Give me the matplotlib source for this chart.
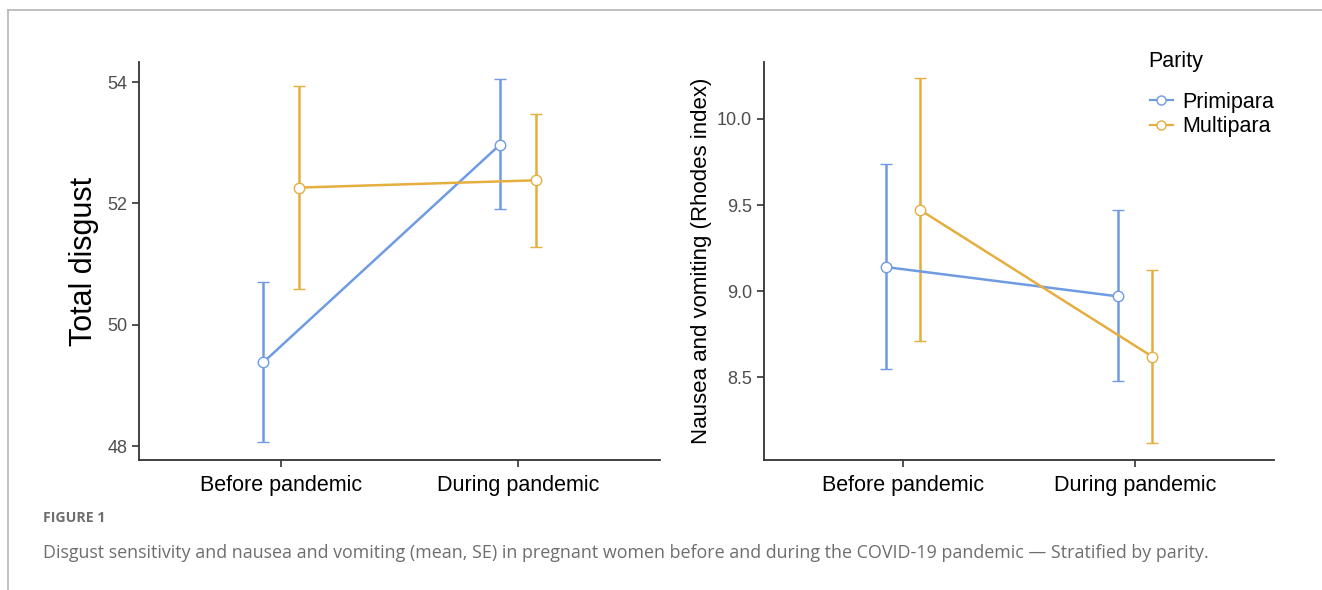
import numpy as np
import matplotlib
matplotlib.use("Agg")
import matplotlib.pyplot as plt
from matplotlib.lines import Line2D

plt.rcParams['font.family'] = ['Liberation Sans', 'DejaVu Sans']

# data (mean and SE limits)
periods = ["Before pandemic", "During pandemic"]
groups = ["Primipara", "Multipara"]
colors = ["#6f9be3", "#e6ad3f"]

disgust_mean = {"Primipara": [49.38, 52.97], "Multipara": [52.26, 52.38]}
disgust_lo = {"Primipara": [48.07, 51.90], "Multipara": [50.59, 51.28]}
disgust_hi = {"Primipara": [50.70, 54.05], "Multipara": [53.93, 53.47]}

nausea_mean = {"Primipara": [9.14, 8.97], "Multipara": [9.47, 8.62]}
nausea_lo = {"Primipara": [8.55, 8.48], "Multipara": [8.71, 8.12]}
nausea_hi = {"Primipara": [9.74, 9.47], "Multipara": [10.24, 9.12]}

fig = plt.figure(figsize=(13.22, 5.90), dpi=100)

# frame of the figure page
fig.add_artist(Line2D([8/1322, 1], [1-10/590, 1-10/590], color="#b5b5b5", lw=1.2))
fig.add_artist(Line2D([8/1322, 8/1322], [0, 1-10/590], color="#b5b5b5", lw=1.2))

ax1 = fig.add_axes([139/1322, 130/590, 521/1322, 398/590])
ax2 = fig.add_axes([764/1322, 130/590, 510/1322, 398/590])

dodge = [-0.075, 0.075]
xx = np.arange(len(periods))


def draw(ax, mean, lo, hi):
    for i, g in enumerate(groups):
        x = xx + dodge[i]
        m = np.array(mean[g])
        err = [m - np.array(lo[g]), np.array(hi[g]) - m]
        ax.errorbar(x, m, yerr=err, color=colors[i], lw=1.8, capsize=4,
                    capthick=1.8, zorder=2, marker="o", ms=7.5,
                    mfc="white", mec=colors[i], mew=1.0)
    ax.set_xlim(-0.6, 1.6)
    ax.set_xticks(xx)
    ax.set_xticklabels(periods, fontsize=15.5, color="black")
    for s in ["top", "right"]:
        ax.spines[s].set_visible(False)
    for s in ["left", "bottom"]:
        ax.spines[s].set_color("#333333")
        ax.spines[s].set_linewidth(1.3)
    ax.tick_params(axis="y", labelsize=13, labelcolor="#4d4d4d", color="#333333",
                   length=5, width=1.2)
    ax.tick_params(axis="x", color="#333333", length=5, width=1.2, pad=6)


draw(ax1, disgust_mean, disgust_lo, disgust_hi)
ax1.set_ylim(47.77, 54.33)
ax1.set_yticks([48, 50, 52, 54])
ax1.set_ylabel("Total disgust", fontsize=22, labelpad=6)

draw(ax2, nausea_mean, nausea_lo, nausea_hi)
ax2.set_ylim(8.02, 10.33)
ax2.set_yticks([8.5, 9.0, 9.5, 10.0])
ax2.set_yticklabels(["8.5", "9.0", "9.5", "10.0"])
ax2.set_ylabel("Nausea and vomiting (Rhodes index)", fontsize=16, labelpad=4)

# legend: title drawn separately to get the wider gap
fig.text(1148/1322, 1-61/590, "Parity", fontsize=15.5, va="center", ha="left")
handles = [Line2D([], [], color=c, lw=1.6, marker="o", ms=6.5, mfc="white", mec=c, mew=1.0)
           for c in colors]
leg = fig.legend(handles, groups, loc="upper left",
                 bbox_to_anchor=(1150/1322, 1-92/590), frameon=False, fontsize=15.5,
                 handlelength=1.05, handletextpad=0.45, labelspacing=0.15,
                 borderpad=0, borderaxespad=0)

fig.text(43/1322, 1-518/590, "FIGURE 1", fontsize=10.2, color="#6e6e6e",
         fontfamily="Open Sans", fontweight="bold", va="center")
fig.text(43/1322, 1-553/590,
         "Disgust sensitivity and nausea and vomiting (mean, SE) in pregnant women before and during the COVID-19 pandemic \u2014 Stratified by parity.",
         fontsize=12.9, color="#6e6e6e", fontfamily="Open Sans", va="center")

fig.savefig("out.png", dpi=100)
